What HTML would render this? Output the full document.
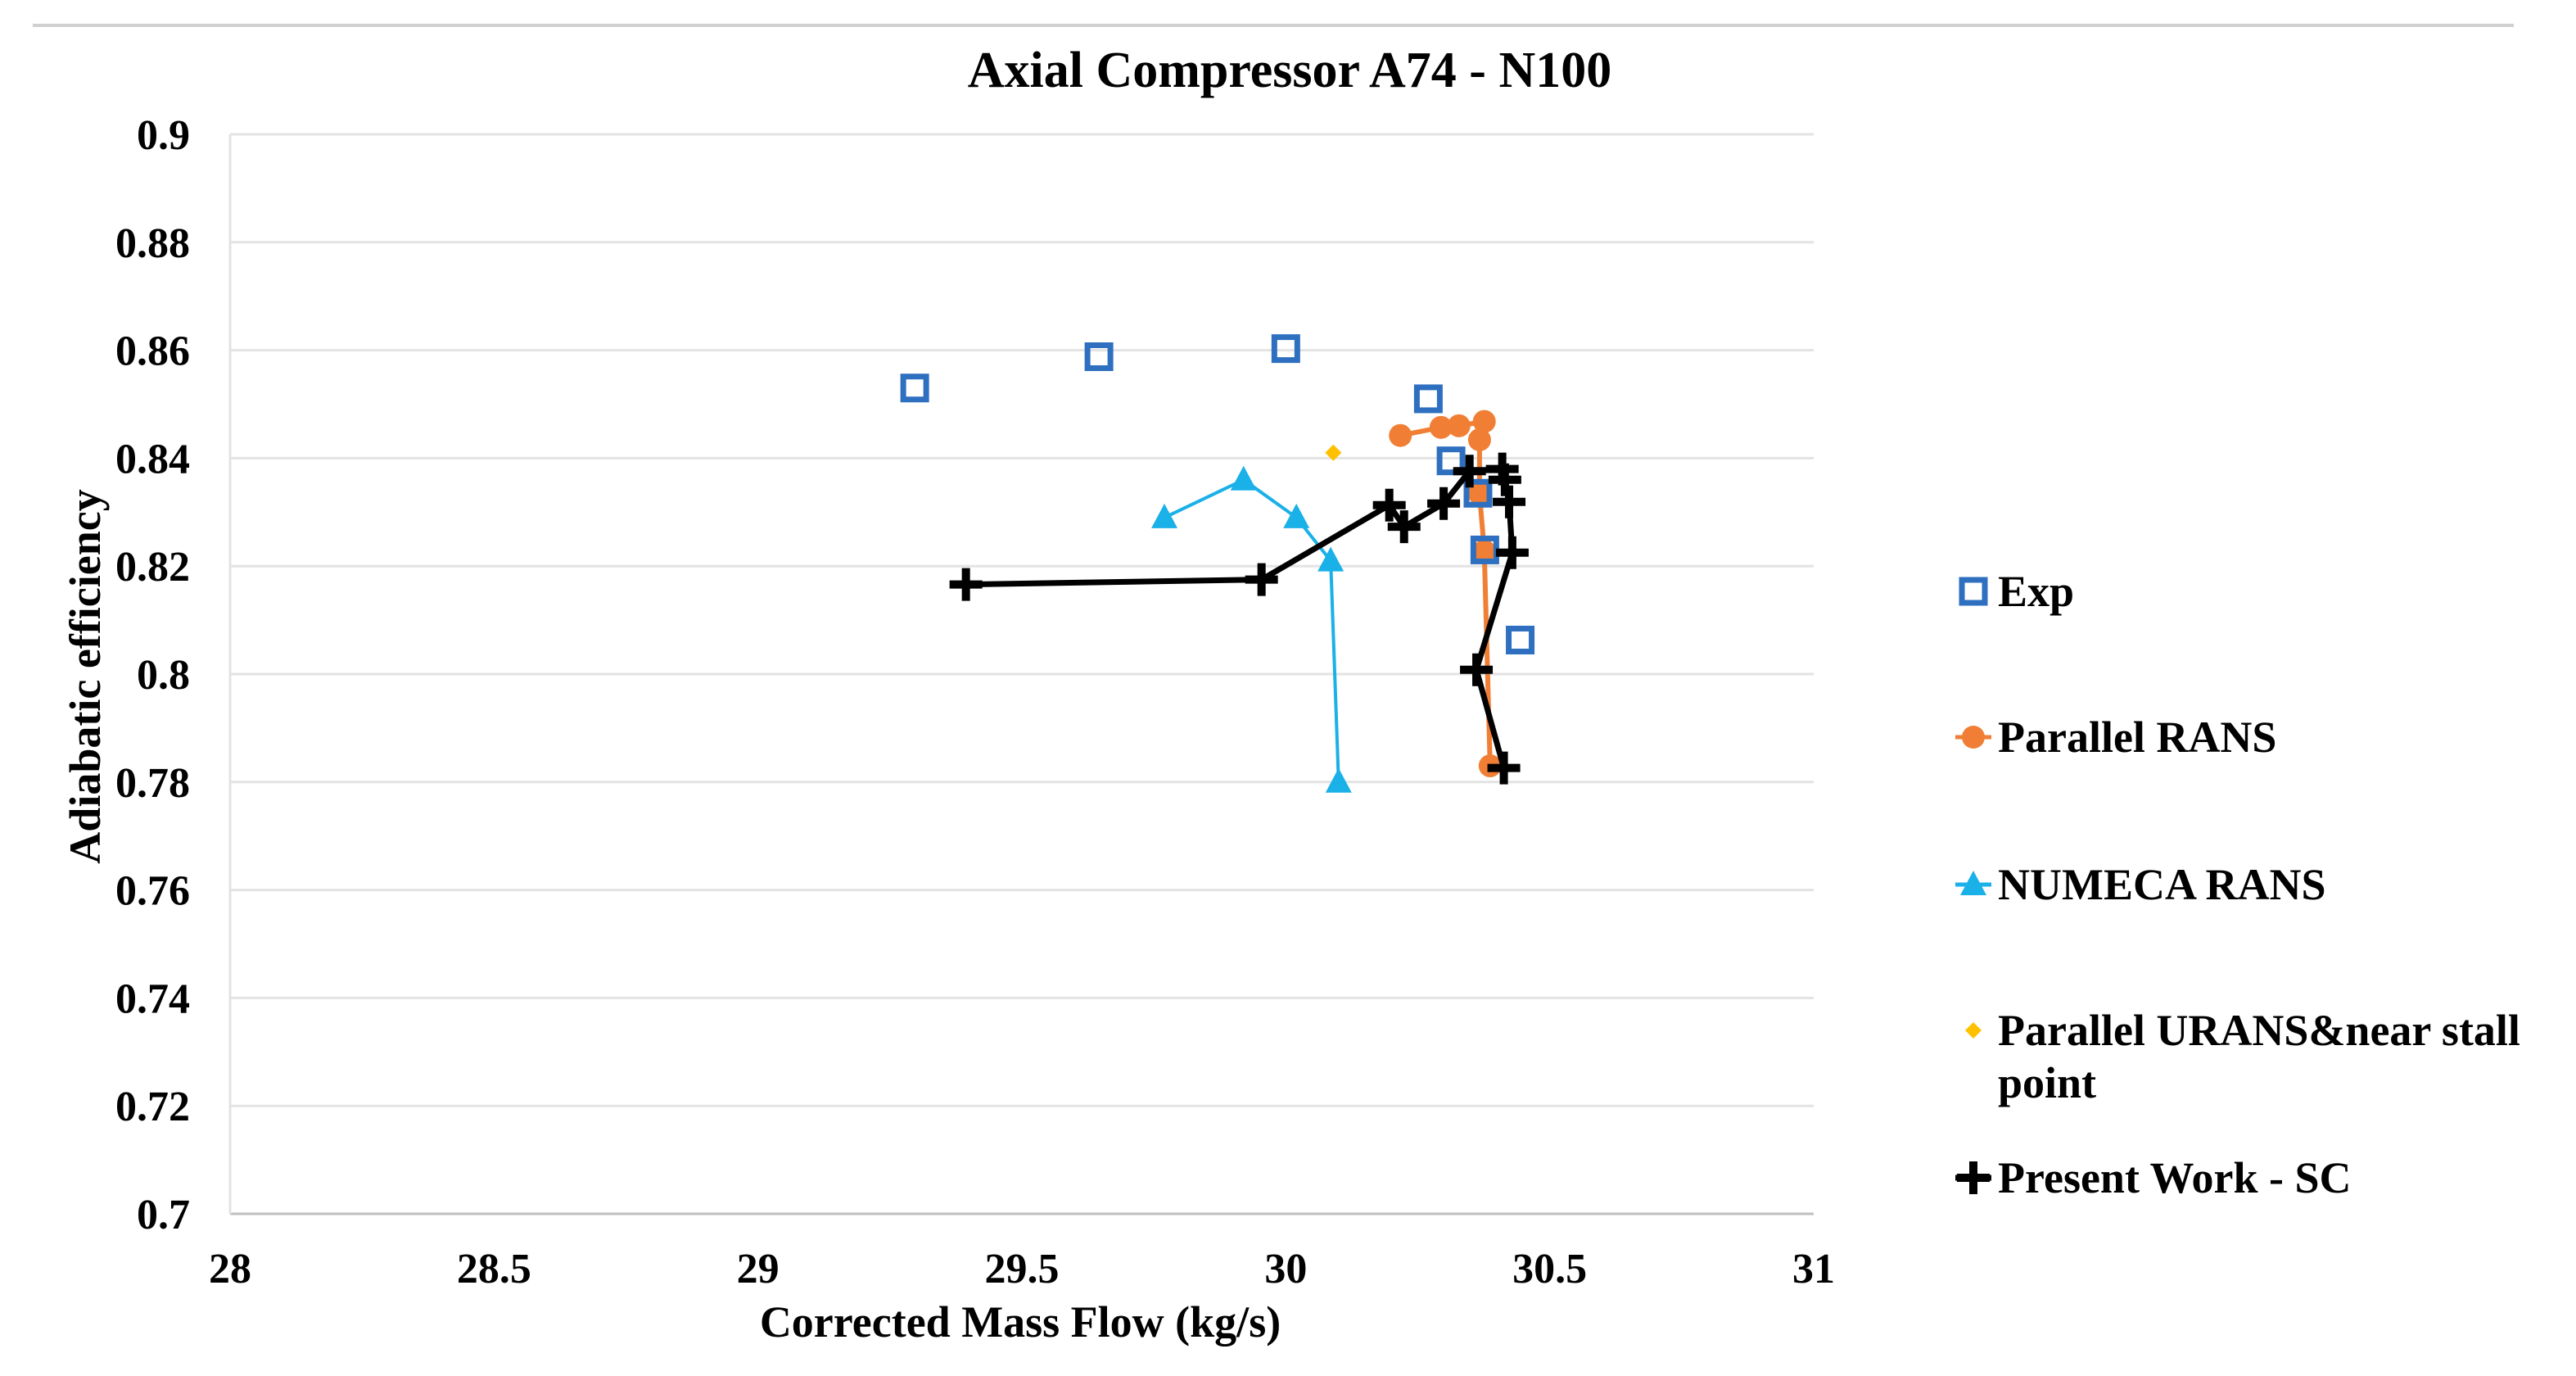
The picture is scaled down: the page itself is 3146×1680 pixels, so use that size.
<!DOCTYPE html>
<html><head><meta charset="utf-8">
<style>
html,body{margin:0;padding:0;background:#fff;}
svg{display:block;}
text{font-family:"Liberation Serif",serif;font-weight:bold;fill:#000;}
</style></head>
<body>
<svg id="chart" width="3146" height="1680" viewBox="0 0 3146 1680" xmlns="http://www.w3.org/2000/svg">
<line x1="40" y1="31" x2="3070" y2="31" stroke="#d0d0d0" stroke-width="4"/>
<text x="1575" y="106" font-size="62" text-anchor="middle">Axial Compressor A74 - N100</text>
<g id="grid"></g>
<g id="yticks"></g>
<g id="xticks"></g>
<text x="1246" y="1632" font-size="54" text-anchor="middle">Corrected Mass Flow (kg/s)</text>
<text transform="translate(122,826) rotate(-90)" font-size="54" text-anchor="middle">Adiabatic efficiency</text>
<g id="series"></g>
<g id="legend"></g>
</svg>
<script>
const xTicks = [28, 28.5, 29, 29.5, 30, 30.5, 31];
const xTickLabels = ["28","28.5","29","29.5","30","30.5","31"];
const yTicks = [0.7,0.72,0.74,0.76,0.78,0.8,0.82,0.84,0.86,0.88,0.9];
const yTickLabels = ["0.7","0.72","0.74","0.76","0.78","0.8","0.82","0.84","0.86","0.88","0.9"];

const expX = [29.297, 29.646, 30.0, 30.27, 30.313, 30.364, 30.377, 30.444];
const expY = [0.853, 0.8588, 0.8603, 0.851, 0.8395, 0.8335, 0.823, 0.8063];
const ransX = [30.217, 30.294, 30.328, 30.376, 30.367, 30.367, 30.376, 30.387];
const ransY = [0.8442, 0.8457, 0.846, 0.8468, 0.8434, 0.8334, 0.8228, 0.783];
const numecaX = [29.77, 29.92, 30.02, 30.085, 30.1];
const numecaY = [0.829, 0.836, 0.829, 0.821, 0.78];
const uransX = [30.09];
const uransY = [0.841];
const scX = [29.394, 29.954, 30.196, 30.224, 30.299, 30.348, 30.41, 30.415, 30.423, 30.429, 30.361, 30.413];
const scY = [0.8166, 0.8175, 0.8313, 0.8273, 0.8316, 0.8376, 0.838, 0.836, 0.8319, 0.8225, 0.8008, 0.7826];

const X0=281, X1=2215, Y0=1482, Y1=164;
const xs = v => X0 + (v-28)/(31-28)*(X1-X0);
const ys = v => Y0 - (v-0.7)/(0.9-0.7)*(Y0-Y1);
const NS="http://www.w3.org/2000/svg";
function mk(tag, attrs, parent){const e=document.createElementNS(NS,tag);for(const k in attrs)e.setAttribute(k,attrs[k]);parent.appendChild(e);return e;}

const grid=document.getElementById('grid');
yTicks.forEach((t,i)=>{
  const l=mk('line',{x1:X0,x2:X1,y1:ys(t),y2:ys(t),stroke:i===0?'#bfbfbf':'#e3e3e3','stroke-width':3},grid);
  
  
  const tx=mk('text',{x:232,y:ys(t)+18,'font-size':52,'text-anchor':'end'},document.getElementById('yticks'));
  tx.textContent=yTickLabels[i];
  
  
});
const va=mk('line',{x1:X0,x2:X0,y1:Y1,y2:Y0,stroke:'#e3e3e3','stroke-width':3},grid);


xTicks.forEach((t,i)=>{
  const tx=mk('text',{x:xs(t),y:1566,'font-size':52,'text-anchor':'middle'},document.getElementById('xticks'));
  tx.textContent=xTickLabels[i];
  
  
});

const S=document.getElementById('series');
function line(X,Y,color,w,name){
  const p=mk('polyline',{points:X.map((x,i)=>xs(x)+','+ys(Y[i])).join(' '),fill:'none',stroke:color,'stroke-width':w,'stroke-linejoin':'round'},S);
  
  
}
function square(cx,cy,parent){return mk('rect',{x:cx-14,y:cy-14,width:28,height:28,fill:'none',stroke:'#2e6fc0','stroke-width':7},parent);}
function circle(cx,cy,parent){return mk('circle',{cx:cx,cy:cy,r:14,fill:'#f07f35'},parent);}
function tri(cx,cy,parent){return mk('polygon',{points:`${cx},${cy-17} ${cx+16},${cy+13} ${cx-16},${cy+13}`,fill:'#1ab0e8'},parent);}
function diamond(cx,cy,parent){return mk('polygon',{points:`${cx},${cy-10} ${cx+10},${cy} ${cx},${cy+10} ${cx-10},${cy}`,fill:'#ffc000'},parent);}
function plus(cx,cy,parent){return mk('path',{d:`M${cx-20},${cy}H${cx+20}M${cx},${cy-20}V${cy+20}`,stroke:'#000','stroke-width':10},parent);}

line(numecaX,numecaY,'#1ab0e8',4,'numeca-line');
numecaX.forEach((x,i)=>{const m=tri(xs(x),ys(numecaY[i]),S);
  
  });
line(ransX,ransY,'#f07f35',6,'parallel-rans-line');
ransX.forEach((x,i)=>{const m=circle(xs(x),ys(ransY[i]),S);
  
  });
uransX.forEach((x,i)=>{const m=diamond(xs(x),ys(uransY[i]),S);
  
  });
expX.forEach((x,i)=>{const m=square(xs(x),ys(expY[i]),S);
  
  });
line(scX,scY,'#000',7,'present-work-line');
scX.forEach((x,i)=>{const m=plus(xs(x),ys(scY[i]),S);
  
  });

const L=document.getElementById('legend');
const items=[
 {y:722,label:'Exp',m:square,c:null},
 {y:900,label:'Parallel RANS',m:circle,c:'#f07f35'},
 {y:1080,label:'NUMECA RANS',m:tri,c:'#1ab0e8'},
 {y:1258,label:'Parallel URANS&near stall',m:diamond,c:null},
 {y:1438,label:'Present Work - SC',m:plus,c:'#000'}
];
items.forEach(it=>{
  const g=mk('g',{},L);
  
  
  if(it.c) mk('line',{x1:2388,x2:2432,y1:it.y,y2:it.y,stroke:it.c,'stroke-width':it.c==='#000'?7:5},g);
  it.m(2410,it.y,g);
  const t=mk('text',{x:2440,y:it.y+18,'font-size':54},g);
  t.textContent=it.label;
});
const t2=mk('text',{x:2440,y:1340,'font-size':54},L);
t2.textContent='point';


</script>
</body></html>
